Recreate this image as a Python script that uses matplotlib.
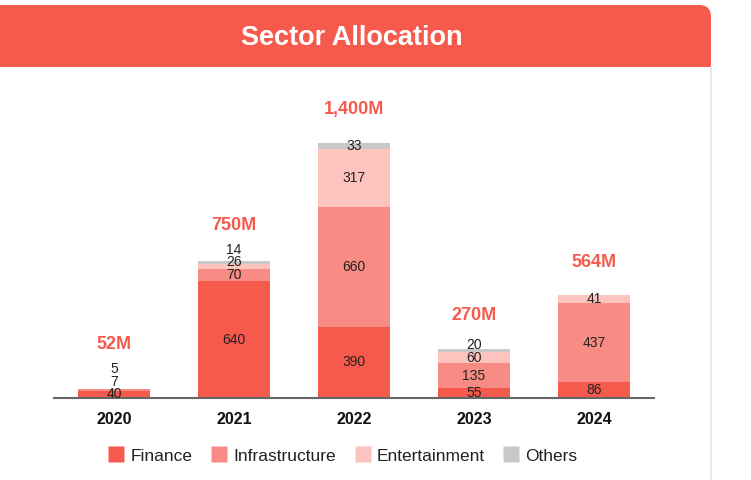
import matplotlib.pyplot as plt
from matplotlib.patches import FancyBboxPatch, Rectangle
from matplotlib.lines import Line2D

# Data
years = ["2020", "2021", "2022", "2023", "2024"]
finance = [40, 640, 390, 55, 86]
infrastructure = [7, 70, 660, 135, 437]
entertainment = [5, 26, 317, 60, 41]
others = [0, 14, 33, 20, 0]

series_names = ["Finance", "Infrastructure", "Entertainment", "Others"]
series_values = [finance, infrastructure, entertainment, others]
colors = ["#F65A4C", "#F88C84", "#FCC3BF", "#C8C8C8"]
red = "#F65A4C"

plt.rcParams['font.family'] = ['Liberation Sans', 'DejaVu Sans']

W, H = 751, 480
fig = plt.figure(figsize=(W / 100, H / 100), dpi=100)

# background card drawn in pixel coordinates
bg = fig.add_axes([0, 0, 1, 1])
bg.set_xlim(0, W)
bg.set_ylim(H, 0)
bg.axis('off')
bg.add_patch(FancyBboxPatch((-30, 5), 741, 120, boxstyle="round,pad=0,rounding_size=12",
                            facecolor=red, edgecolor='none'))
bg.add_patch(Rectangle((-30, 67), 741, 420, facecolor='white', edgecolor='none'))
bg.plot([711, 711], [67, H], color='#E4E4E4', lw=1.2)
bg.text(352, 38, "Sector Allocation", color='white', fontsize=19.5, fontweight='bold',
        ha='center', va='center')

# main chart
ax = fig.add_axes([54 / W, 1 - 398 / H, 600 / W, 308 / H])
ymax = 1690
px = ymax / 308  # data units per pixel

x = list(range(len(years)))
bottoms = [0] * len(years)
for name, vals, c in zip(series_names, series_values, colors):
    ax.bar(x, vals, bottom=bottoms, width=0.6, color=c, label=name)
    bottoms = [b + v for b, v in zip(bottoms, vals)]

# segment labels, pushed apart when segments are thin
min_sep = 12.5 * px
for i in x:
    base = 0
    last = None
    for vals in series_values:
        v = vals[i]
        if v == 0:
            continue
        yc = base + v / 2
        if last is not None:
            yc = max(yc, last + min_sep)
        ax.text(i, yc, str(v), ha='center', va='center', fontsize=10, color='#222222')
        last = yc
        base += v
    total = bottoms[i]
    anchor = max(total, last - 45)
    ax.text(i, anchor + 33 * px, f"{total:,}M", ha='center', va='center',
            fontsize=13, fontweight='bold', color=red)

ax.set_xlim(-0.5, 4.5)
ax.set_ylim(0, ymax)
ax.set_xticks(x)
ax.set_xticklabels(years, fontsize=11.5, fontweight='bold', color='#111111')
ax.tick_params(axis='x', length=0, pad=10)
ax.set_yticks([])
for s in ['top', 'right', 'left']:
    ax.spines[s].set_visible(False)
ax.spines['bottom'].set_color('#666666')
ax.spines['bottom'].set_linewidth(1.5)
ax.patch.set_alpha(0)

handles = [Line2D([], [], marker='s', linestyle='none', markersize=12,
                  markerfacecolor=c, markeredgecolor='none') for c in colors]
fig.legend(handles, series_names, loc='center', bbox_to_anchor=(343 / W, 1 - 456 / H),
           ncol=4, frameon=False, fontsize=12.5, handlelength=0.9, handletextpad=0.35,
           columnspacing=1.1, labelcolor='#222222')

fig.savefig("out.png", dpi=100)
